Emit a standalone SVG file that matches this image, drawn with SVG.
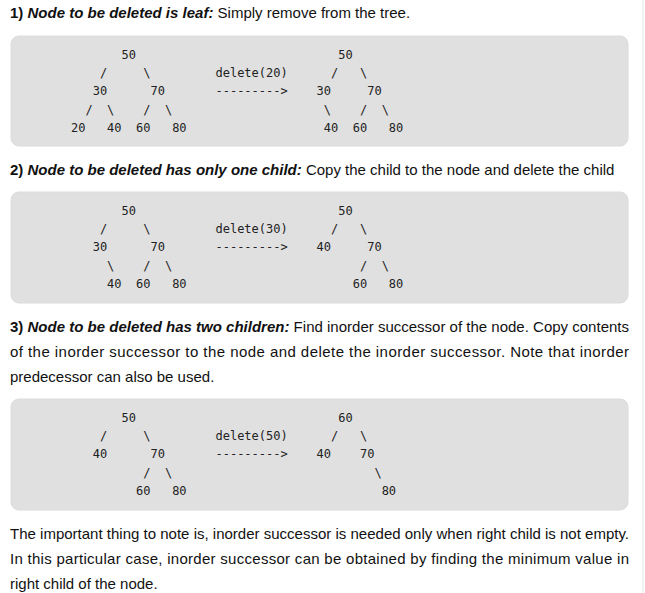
<svg xmlns="http://www.w3.org/2000/svg" width="645" height="593" viewBox="0 0 645 593">
<style>
.p{font-family:"Liberation Sans",Arial,sans-serif;font-size:15px;fill:#111}
.b{font-weight:bold}
.bi{font-weight:bold;font-style:italic}
.box{fill:#e0e0e0;stroke:#dcdcdc;stroke-width:1}
.c{font-family:"DejaVu Sans Mono",monospace;font-size:12px;fill:#222}
</style>
<rect x="0" y="0" width="645" height="593" fill="#ffffff"/>
<line x1="643" y1="0" x2="643" y2="593" stroke="#e4e4e4" stroke-width="1"/>

<g id="heading1">
<text class="p" x="10" y="18"><tspan class="b">1) </tspan><tspan class="bi">Node to be deleted is leaf:</tspan> Simply remove from the tree.</text>
</g>

<g id="block1">
<rect class="box" x="11" y="36" width="617" height="110" rx="8"/>
<text class="c" y="59"><tspan x="121.57">50</tspan><tspan x="338.29">50</tspan></text>
<text class="c" y="77.2"><tspan x="99.9">/</tspan><tspan x="143.24">\</tspan><tspan x="215.48">delete(20)</tspan><tspan x="331.06">/</tspan><tspan x="359.96">\</tspan></text>
<text class="c" y="95.4"><tspan x="92.67">30</tspan><tspan x="150.46">70</tspan><tspan x="215.48">---------&gt;</tspan><tspan x="316.62">30</tspan><tspan x="367.18">70</tspan></text>
<text class="c" y="113.6"><tspan x="85.45">/</tspan><tspan x="107.12">\</tspan><tspan x="143.24">/</tspan><tspan x="164.91">\</tspan><tspan x="323.84">\</tspan><tspan x="359.96">/</tspan><tspan x="381.63">\</tspan></text>
<text class="c" y="131.8"><tspan x="71">20</tspan><tspan x="107.12">40</tspan><tspan x="136.02">60</tspan><tspan x="172.14">80</tspan><tspan x="323.84">40</tspan><tspan x="352.74">60</tspan><tspan x="388.86">80</tspan></text>
</g>

<g id="heading2">
<text class="p" x="10" y="175"><tspan class="b">2) </tspan><tspan class="bi">Node to be deleted has only one child:</tspan> Copy the child to the node and delete the child</text>
</g>

<g id="block2">
<rect class="box" x="11" y="192" width="617" height="111" rx="8"/>
<text class="c" y="215"><tspan x="121.57">50</tspan><tspan x="338.29">50</tspan></text>
<text class="c" y="233.2"><tspan x="99.9">/</tspan><tspan x="143.24">\</tspan><tspan x="215.48">delete(30)</tspan><tspan x="331.06">/</tspan><tspan x="359.96">\</tspan></text>
<text class="c" y="251.4"><tspan x="92.67">30</tspan><tspan x="150.46">70</tspan><tspan x="215.48">---------&gt;</tspan><tspan x="316.62">40</tspan><tspan x="367.18">70</tspan></text>
<text class="c" y="269.6"><tspan x="107.12">\</tspan><tspan x="143.24">/</tspan><tspan x="164.91">\</tspan><tspan x="359.96">/</tspan><tspan x="381.63">\</tspan></text>
<text class="c" y="287.8"><tspan x="107.12">40</tspan><tspan x="136.02">60</tspan><tspan x="172.14">80</tspan><tspan x="352.74">60</tspan><tspan x="388.86">80</tspan></text>
</g>

<g id="heading3">
<text class="p" x="10" y="332" textLength="619" lengthAdjust="spacing"><tspan class="b">3) </tspan><tspan class="bi">Node to be deleted has two children:</tspan> Find inorder successor of the node. Copy contents</text>
<text class="p" x="10" y="357" textLength="619" lengthAdjust="spacing">of the inorder successor to the node and delete the inorder successor. Note that inorder</text>
<text class="p" x="10" y="382">predecessor can also be used.</text>
</g>

<g id="block3">
<rect class="box" x="11" y="399" width="617" height="111" rx="8"/>
<text class="c" y="422"><tspan x="121.57">50</tspan><tspan x="338.29">60</tspan></text>
<text class="c" y="440.2"><tspan x="99.9">/</tspan><tspan x="143.24">\</tspan><tspan x="215.48">delete(50)</tspan><tspan x="331.06">/</tspan><tspan x="359.96">\</tspan></text>
<text class="c" y="458.4"><tspan x="92.67">40</tspan><tspan x="150.46">70</tspan><tspan x="215.48">---------&gt;</tspan><tspan x="316.62">40</tspan><tspan x="359.96">70</tspan></text>
<text class="c" y="476.6"><tspan x="143.24">/</tspan><tspan x="164.91">\</tspan><tspan x="374.41">\</tspan></text>
<text class="c" y="494.8"><tspan x="136.02">60</tspan><tspan x="172.14">80</tspan><tspan x="381.63">80</tspan></text>
</g>

<g id="note">
<text class="p" x="10" y="539" textLength="619" lengthAdjust="spacing">The important thing to note is, inorder successor is needed only when right child is not empty.</text>
<text class="p" x="10" y="564" textLength="619" lengthAdjust="spacing">In this particular case, inorder successor can be obtained by finding the minimum value in</text>
<text class="p" x="10" y="589">right child of the node.</text>
</g>
</svg>
